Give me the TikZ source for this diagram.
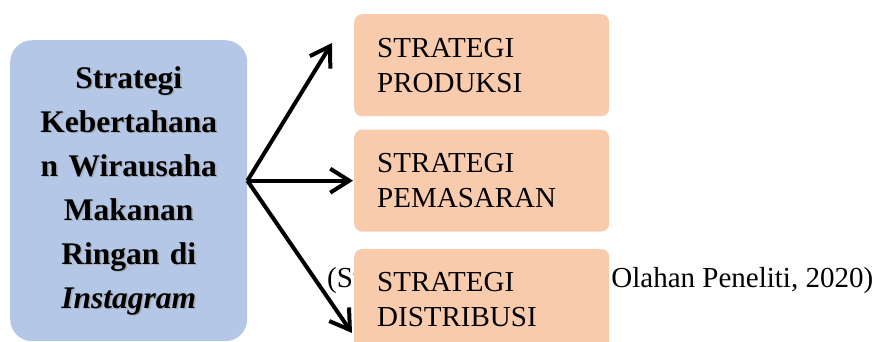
\documentclass[tikz,border=0pt]{standalone}
\usepackage{fontspec}
\setmainfont{Liberation Serif}
\usetikzlibrary{arrows.meta,positioning}
\definecolor{boxblue}{HTML}{B4C7E7}
\definecolor{boxpeach}{HTML}{F8CBAD}
\begin{document}
\begin{tikzpicture}[x=1pt,y=-1pt,node distance=13pt]
\tikzstyle{strat}=[fill=boxpeach,rounded corners=8pt,minimum height=102pt,text width=209pt,inner xsep=23pt,inner ysep=0pt,align=left,font=\fontsize{29}{35}\selectfont]
\tikzstyle{title}=[text width=225pt,align=center,font=\bfseries\fontsize{31.5}{44}\selectfont]
\tikzstyle{arr}=[line width=4pt,-{Straight Barb[length=19pt,width=24pt]}]
\useasboundingbox (0,0) rectangle (878,341);
\node (cap) [anchor=base west,inner sep=0pt,font=\fontsize{29}{35}\selectfont] at (327,287)
  {\makebox[546pt]{(Sumber:\hfill Olahan Peneliti, 2020)}};
\node (main) [fill=boxblue,rounded corners=22pt,minimum width=237pt,minimum height=301pt,anchor=north west] at (10,40) {};
\node (mainshadow) [title,text=black!40,opacity=0.6] at ([xshift=1.5pt,yshift=-1.5pt]main.center)
  {Strategi\\Kebertahana\\n Wirausaha\\Makanan\\Ringan di\\\textit{Instagram}};
\node (maintext) [title] at (main.center)
  {Strategi\\Kebertahana\\n Wirausaha\\Makanan\\Ringan di\\\textit{Instagram}};
\node (prod) [strat,anchor=north west] at (354,14) {STRATEGI\\PRODUKSI};
\node (pem) [strat,below=of prod] {STRATEGI\\PEMASARAN};
\node (dist) [strat,below=17pt of pem] {STRATEGI\\DISTRIBUSI};
\coordinate (split) at ([yshift=10pt]main.east);
\coordinate (tip1) at (332,43);
\coordinate (tip2) at ([xshift=-1pt]split -| pem.west);
\coordinate (tip3) at (352,333);
\draw[arr] (split) -- (tip1);
\draw[arr] (split) -- (tip2);
\draw[arr] (split) -- (tip3);
\end{tikzpicture}
\end{document}
